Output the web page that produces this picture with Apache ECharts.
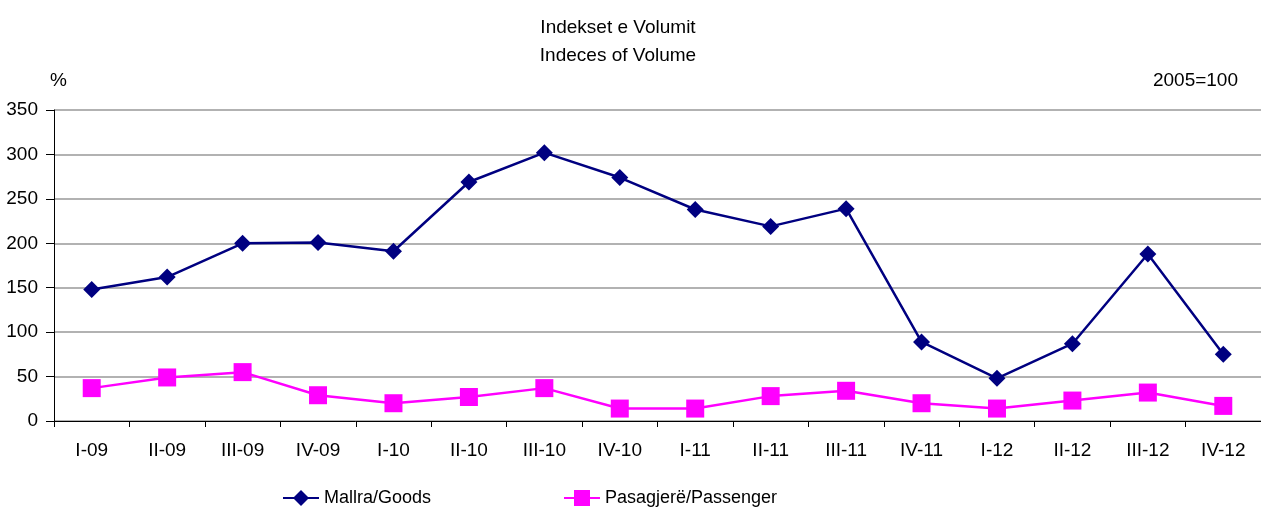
<!DOCTYPE html>
<html>
<head>
<meta charset="utf-8">
<script src="https://cdn.jsdelivr.net/npm/echarts@6/dist/echarts.min.js"></script>
<style>
  html, body { margin: 0; padding: 0; background: #fff; }
  #chart { width: 1261px; height: 510px; }
</style>
</head>
<body>
<div id="chart"></div>
<script>
  var categories = ['I-09', 'II-09', 'III-09', 'IV-09', 'I-10', 'II-10', 'III-10', 'IV-10',
    'I-11', 'II-11', 'III-11', 'IV-11', 'I-12', 'II-12', 'III-12', 'IV-12'];
  var goods = [148, 162, 200, 201, 191, 269, 302, 274, 238, 219, 239, 89, 48, 87, 188, 75];
  var passenger = [37, 49, 55, 29, 20, 27, 37, 14, 14, 28, 34, 20, 14, 23, 32, 17];
  var yTicks = [0, 50, 100, 150, 200, 250, 300, 350];

  var font = '"Liberation Sans Narrow", "Arial Narrow", "Liberation Sans", sans-serif';
  var myChart = echarts.init(document.getElementById('chart'));
  myChart.setOption({
    animation: false,
    textStyle: { fontFamily: font },
    title: [
      {
        text: 'Indekset e Volumit\nIndeces of Volume',
        left: 613, top: 9, textAlign: 'center',
        textStyle: { fontFamily: font, fontSize: 19, fontWeight: 'normal', color: '#000', lineHeight: 28 }
      },
      {
        text: '%', left: 45, top: 66,
        textStyle: { fontFamily: font, fontSize: 19, fontWeight: 'normal', color: '#000' }
      },
      {
        text: '2005=100', right: 18, top: 66,
        textStyle: { fontFamily: font, fontSize: 19, fontWeight: 'normal', color: '#000' }
      }
    ],
    legend: [
      {
        data: ['Mallra/Goods'], left: 282, top: 489, padding: 0,
        itemWidth: 36, itemHeight: 20, itemGap: 4,
        textStyle: { fontFamily: font, fontSize: 18, color: '#000' }
      },
      {
        data: ['Pasagjerë/Passenger'], left: 563, top: 489, padding: 0,
        itemWidth: 36, itemHeight: 20, itemGap: 4,
        textStyle: { fontFamily: font, fontSize: 18, color: '#000' }
      }
    ],
    grid: { left: 54, right: 0, top: 110, bottom: 89 },
    xAxis: {
      type: 'category',
      data: categories,
      boundaryGap: true,
      axisLine: { lineStyle: { color: '#000', width: 1 } },
      axisTick: { show: true, length: 6, lineStyle: { color: '#000' } },
      axisLabel: { color: '#000', fontSize: 19, margin: 20, interval: 0, fontFamily: font }
    },
    yAxis: {
      type: 'value',
      min: yTicks[0],
      max: yTicks[yTicks.length - 1],
      interval: 50,
      axisLine: { show: true, lineStyle: { color: '#000', width: 1 } },
      axisTick: { show: true, length: 8, lineStyle: { color: '#000' } },
      axisLabel: { color: '#000', fontSize: 19, margin: 16, fontFamily: font },
      splitLine: { show: true, lineStyle: { color: '#999', width: 1.5 } }
    },
    series: [
      {
        name: 'Mallra/Goods',
        type: 'line',
        data: goods,
        symbol: 'diamond',
        symbolSize: 17,
        itemStyle: { color: '#000080' },
        lineStyle: { color: '#000080', width: 2.5 }
      },
      {
        name: 'Pasagjerë/Passenger',
        type: 'line',
        data: passenger,
        symbol: 'rect',
        symbolSize: 18,
        itemStyle: { color: '#FF00FF' },
        lineStyle: { color: '#FF00FF', width: 2.5 }
      }
    ]
  });
</script>
</body>
</html>
